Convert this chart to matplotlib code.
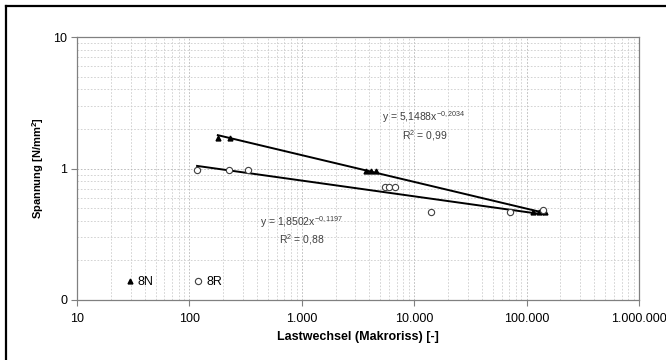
import numpy as np
import matplotlib
matplotlib.use('Agg')
import matplotlib.pyplot as plt
from matplotlib.ticker import FixedLocator, FuncFormatter, LogLocator, NullFormatter
from matplotlib.lines import Line2D

plt.rcParams['font.family'] = ['Liberation Sans', 'DejaVu Sans']
plt.rcParams['mathtext.fontset'] = 'custom'
plt.rcParams['mathtext.rm'] = 'Liberation Sans'
plt.rcParams['mathtext.default'] = 'regular'

n_8N = [179, 229, 3700, 4100, 4600, 113000, 128000, 145000]
s_8N = [1.72, 1.70, 0.95, 0.95, 0.95, 0.47, 0.47, 0.47]

n_8R = [117, 224, 331, 5500, 6000, 6700, 14100, 71000, 140000]
s_8R = [0.98, 0.97, 0.97, 0.72, 0.72, 0.72, 0.47, 0.47, 0.48]

# Potenz-Trendlinien y = a * x^b
fit_8N = (5.1488, -0.2034, 0.99)
fit_8R = (1.8502, -0.1197, 0.88)

x_ticks = [10, 100, 1000, 10000, 100000, 1000000]
y_ticks = [0.1, 1, 10]
y_ticklabels = ['0', '1', '10']

fig = plt.figure(figsize=(6.66, 3.6), dpi=100)
ax = fig.add_axes([77 / 666, 60 / 360, 562 / 666, 263 / 360])

ax.set_xscale('log')
ax.set_yscale('log')
ax.set_xlim(10, 1e6)
ax.set_ylim(0.1, 10)

for n, s, fit in [(n_8N, s_8N, fit_8N), (n_8R, s_8R, fit_8R)]:
    a, b, _ = fit
    xs = np.logspace(np.log10(min(n)), np.log10(max(n)), 50)
    ax.plot(xs, a * xs ** b, color='black', lw=1.4, zorder=3)

ax.plot(n_8N, s_8N, ls='none', marker='^', ms=3.5, color='black', label='8N', zorder=4)
ax.plot(n_8R, s_8R, ls='none', marker='o', ms=4.5, mfc='white', mec='#404040',
        mew=0.8, label='8R', zorder=4)

txt_kw = dict(fontsize=7.5, color='#404040', ha='center', va='center')
ax.text(12300, 2.45, r'y = 5,1488x$^{-0,2034}$', **txt_kw)
ax.text(12500, 1.79, r'R$^{2}$ = 0,99', **txt_kw)
ax.text(1000, 0.394, r'y = 1,8502x$^{-0,1197}$', **txt_kw)
ax.text(1000, 0.287, r'R$^{2}$ = 0,88', **txt_kw)

ax.xaxis.set_major_locator(FixedLocator(x_ticks))
ax.xaxis.set_major_formatter(FuncFormatter(lambda v, p: f'{int(round(v)):,}'.replace(',', '.')))
ax.xaxis.set_minor_locator(LogLocator(base=10, subs=np.arange(2, 10), numticks=20))
ax.xaxis.set_minor_formatter(NullFormatter())
ax.yaxis.set_major_locator(FixedLocator(y_ticks))
ax.set_yticklabels(y_ticklabels)
ax.yaxis.set_minor_locator(LogLocator(base=10, subs=np.arange(2, 10), numticks=20))
ax.yaxis.set_minor_formatter(NullFormatter())

ax.grid(which='major', color='#b4b4b4', ls=(0, (2, 2)), lw=0.6)
ax.grid(which='minor', color='#cccccc', ls=(0, (2, 2)), lw=0.6)
ax.set_axisbelow(True)

for sp in ax.spines.values():
    sp.set_color('#808080')
    sp.set_linewidth(0.9)
ax.tick_params(which='major', direction='out', length=4, color='#808080',
               labelsize=9, labelcolor='black')
ax.tick_params(axis='x', which='major', pad=5)
ax.tick_params(axis='y', which='major', pad=3)
ax.tick_params(which='minor', length=0)

ax.set_xlabel('Lastwechsel (Makroriss) [-]', fontsize=9, fontweight='bold')
ax.xaxis.set_label_coords(0.5, -0.118)
ax.set_ylabel('Spannung [N/mm$^{2}$]', fontsize=8, fontweight='bold')
ax.yaxis.set_label_coords(-0.055, 0.5)

ax.legend(loc='center', bbox_to_anchor=(0.172, 0.068), ncol=2, frameon=False,
          fontsize=9, handlelength=0.7, handletextpad=0.3, columnspacing=3.2)

# schwarzer Rahmen (rechts/unten abgeschnitten)
fig.add_artist(Line2D([6 / 666, 6 / 666], [0, 1 - 6 / 360], color='black', lw=1.6,
                      transform=fig.transFigure))
fig.add_artist(Line2D([6 / 666, 1], [1 - 6 / 360, 1 - 6 / 360], color='black', lw=1.6,
                      transform=fig.transFigure))

fig.savefig('out.png', dpi=100)
